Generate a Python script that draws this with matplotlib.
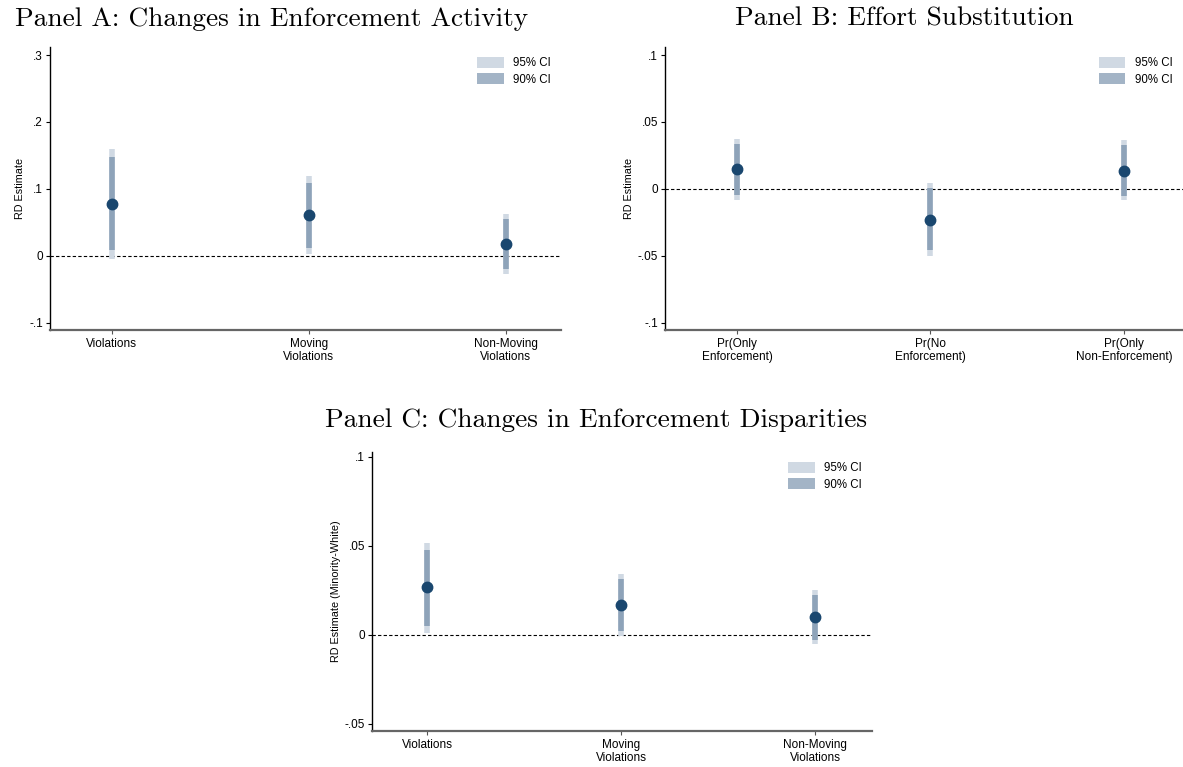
import matplotlib
matplotlib.use("Agg")
import matplotlib.pyplot as plt
from matplotlib.patches import Patch

# ---- data -------------------------------------------------------------
a_labels = ["Violations", "Moving\nViolations", "Non-Moving\nViolations"]
a_est = [0.078, 0.061, 0.017]
a_lo95 = [-0.005, 0.002, -0.027]
a_hi95 = [0.159, 0.119, 0.062]
a_lo90 = [0.008, 0.011, -0.020]
a_hi90 = [0.148, 0.109, 0.055]
a_ticks = [-0.1, 0, 0.1, 0.2, 0.3]
a_ticklabels = ["-.1", "0", ".1", ".2", ".3"]

b_labels = ["Pr(Only\nEnforcement)", "Pr(No\nEnforcement)", "Pr(Only\nNon-Enforcement)"]
b_est = [0.015, -0.023, 0.0137]
b_lo95 = [-0.0082, -0.050, -0.0082]
b_hi95 = [0.0376, 0.0047, 0.0363]
b_lo90 = [-0.0047, -0.0458, -0.0052]
b_hi90 = [0.0338, 0.0010, 0.0326]
b_ticks = [-0.1, -0.05, 0, 0.05, 0.1]
b_ticklabels = ["-.1", "-.05", "0", ".05", ".1"]

c_labels = ["Violations", "Moving\nViolations", "Non-Moving\nViolations"]
c_est = [0.0266, 0.0165, 0.0099]
c_lo95 = [0.0011, -0.0006, -0.0051]
c_hi95 = [0.0513, 0.0341, 0.0251]
c_lo90 = [0.0051, 0.0021, -0.0030]
c_hi90 = [0.0476, 0.0313, 0.0223]
c_ticks = [-0.05, 0, 0.05, 0.1]
c_ticklabels = ["-.05", "0", ".05", ".1"]

# ---- style ------------------------------------------------------------
NAVY = "#1a476f"
CI95 = "#d0d9e3"
CI90 = "#8ea3b9"
CI90_LEG = "#a3b4c6"
SANS = ["Liberation Sans", "DejaVu Sans"]
SERIF = ["cmr10", "DejaVu Serif"]

plt.rcParams["font.family"] = SANS
plt.rcParams["axes.unicode_minus"] = False

W, H = 1183, 767
fig = plt.figure(figsize=(W / 100, H / 100), dpi=100)


def px_axes(left, top, right, bottom):
    return fig.add_axes([left / W, 1 - bottom / H, (right - left) / W, (bottom - top) / H])


def panel(ax, labels, est, lo95, hi95, lo90, hi90, ticks, ticklabels,
          ylim, xlim, ylabel, title, title_x, title_y):
    xs = [1, 2, 3]
    ax.vlines(xs, lo95, hi95, color=CI95, lw=4.0, zorder=2)
    ax.vlines(xs, lo90, hi90, color=CI90, lw=4.0, zorder=3)
    ax.plot(xs, est, "o", color=NAVY, ms=7.5, zorder=4)
    ax.axhline(0, color="black", lw=0.8, ls=(0, (3, 2)), zorder=1)

    ax.set_xlim(*xlim)
    ax.set_ylim(*ylim)
    ax.set_xticks(xs)
    ax.set_xticklabels(labels, fontsize=8.5, linespacing=1.05)
    ax.set_yticks(ticks)
    ax.set_yticklabels(ticklabels, fontsize=8.5)
    ax.tick_params(axis="both", length=3, width=0.8, pad=2, colors="black")
    ax.tick_params(axis="x", colors="#555555", labelcolor="black", pad=3)
    ax.set_ylabel(ylabel, fontsize=7.8, labelpad=3)

    for s in ("top", "right"):
        ax.spines[s].set_visible(False)
    ax.spines["left"].set_color("black")
    ax.spines["bottom"].set_color("#666666")
    ax.spines["left"].set_linewidth(1.0)
    ax.spines["bottom"].set_linewidth(1.6)

    handles = [Patch(facecolor=CI95, edgecolor="none", label="95% CI"),
               Patch(facecolor=CI90_LEG, edgecolor="none", label="90% CI")]
    ax.legend(handles=handles, loc="upper right", bbox_to_anchor=(0.993, 0.99),
              frameon=False, fontsize=8.3, handlelength=2.3, handleheight=1.1,
              handletextpad=0.8, labelspacing=0.35, borderaxespad=0.2)

    fig.text(title_x / W, 1 - title_y / H, title, ha="center", va="center",
             fontsize=19.7, family=SERIF)


ax_a = px_axes(50, 47, 561, 330)
panel(ax_a, a_labels, a_est, a_lo95, a_hi95, a_lo90, a_hi90, a_ticks, a_ticklabels,
      (-0.111, 0.312), (0.686, 3.28), "RD Estimate",
      "Panel A: Changes in Enforcement Activity", 272, 19)

ax_b = px_axes(665, 47, 1183, 330)
panel(ax_b, b_labels, b_est, b_lo95, b_hi95, b_lo90, b_hi90, b_ticks, b_ticklabels,
      (-0.1054, 0.106), (0.628, 3.305), "RD Estimate",
      "Panel B: Effort Substitution", 904, 19)

ax_c = px_axes(372, 452, 872, 731)
panel(ax_c, c_labels, c_est, c_lo95, c_hi95, c_lo90, c_hi90, c_ticks, c_ticklabels,
      (-0.0541, 0.1026), (0.716, 3.294), "RD Estimate (Minority-White)",
      "Panel C: Changes in Enforcement Disparities", 596, 420)

fig.savefig("out.png", dpi=100, facecolor="white")
